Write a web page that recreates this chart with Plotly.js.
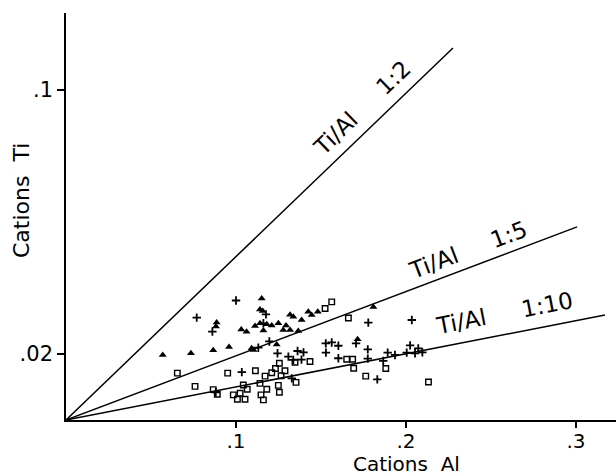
<!DOCTYPE html>
<html>
<head>
<meta charset="utf-8">
<script src="https://cdn.plot.ly/plotly-3.0.1.min.js"></script>
<style>html,body{margin:0;padding:0;background:#fff;}#chart{width:616px;height:476px;}</style>
</head>
<body>
<div id="chart"></div>
<script>
// Reference lines Ti/Al (start at origin, end)
var lineLabels = ["Ti/Al\u00a0\u00a0\u00a0\u00a0 1:2", "Ti/Al\u00a0\u00a0\u00a0\u00a0 1:5", "Ti/Al\u00a0\u00a0\u00a0\u00a0 1:10"];
var lineEndX = [0.2276, 0.3006, 0.317];
var lineEndY = [0.1127, 0.0585, 0.0318];
var labelX = [0.1741, 0.2365, 0.2582];
var labelY = [0.0945, 0.0515, 0.0324];
var labelAngle = [-44, -20.7, -11];

// Filled triangles
var triX = [0.0569,0.0735,0.0866,0.0959,0.0886,0.0882,0.1031,0.1062,0.1151,0.1141,0.1157,0.1112,0.1141,0.1181,0.1210,0.1249,0.1278,0.1294,0.1318,0.1318,0.1337,0.1386,0.1425,0.1445,0.1481,0.1366,0.1161,0.1092,0.1103,0.1808,0.1239,0.1715];
var triY = [0.0197,0.0202,0.0211,0.0221,0.0295,0.0283,0.0274,0.0267,0.0368,0.0335,0.0330,0.0285,0.0293,0.0290,0.0286,0.0293,0.0273,0.0286,0.0273,0.0319,0.0313,0.0303,0.0328,0.0318,0.0328,0.0270,0.0271,0.0217,0.0212,0.0342,0.0229,0.0245];

// Plus signs
var plusX = [0.0769,0.0861,0.1000,0.1176,0.1131,0.1196,0.1244,0.1308,0.1362,0.1397,0.1337,0.1385,0.1034,0.0881,0.1528,0.1563,0.1602,0.1706,0.1529,0.1602,0.1775,0.1775,0.1778,0.2034,0.1831,0.1892,0.1935,0.2004,0.2024,0.2072,0.2096,0.1866,0.1161,0.1328,0.2053];
var plusY = [0.0310,0.0268,0.0362,0.0320,0.0219,0.0238,0.0202,0.0192,0.0209,0.0205,0.0182,0.0183,0.0145,0.0084,0.0232,0.0235,0.0225,0.0232,0.0204,0.0187,0.0214,0.0186,0.0295,0.0303,0.0123,0.0204,0.0197,0.0204,0.0226,0.0217,0.0205,0.0179,0.0293,0.0126,0.0202];

// Open squares
var sqX = [0.0655,0.0759,0.0866,0.0890,0.0951,0.0984,0.1008,0.1024,0.1053,0.1043,0.1066,0.1147,0.1161,0.1141,0.1181,0.1249,0.1255,0.1353,0.1114,0.1171,0.1210,0.1232,0.1255,0.1288,0.1265,0.1347,0.1435,0.1563,0.1524,0.1661,0.1651,0.1686,0.1692,0.1763,0.1881,0.2132];
var sqY = [0.0142,0.0102,0.0092,0.0078,0.0142,0.0076,0.0063,0.0081,0.0063,0.0106,0.0093,0.0076,0.0061,0.0111,0.0093,0.0105,0.0084,0.0114,0.0149,0.0133,0.0143,0.0156,0.0172,0.0149,0.0134,0.0175,0.0177,0.0358,0.0338,0.0309,0.0184,0.0184,0.0157,0.0133,0.0156,0.0115];

var xTicks = [0.1, 0.2, 0.3];
var xTickText = [".1", ".2", ".3"];
var yTicks = [0.02, 0.1];
var yTickText = [".02", ".1"];

var FONT = "DejaVu Sans, Liberation Sans, Arial, sans-serif";
var traces = [];
for (var i = 0; i < lineEndX.length; i++) {
  traces.push({type: "scatter", mode: "lines", x: [0, lineEndX[i]], y: [0, lineEndY[i]],
    line: {color: "#000", width: 1.5}, hoverinfo: "skip", showlegend: false, cliponaxis: false});
}
traces.push({type: "scatter", mode: "markers", x: triX, y: triY, showlegend: false,
  marker: {symbol: "triangle-up", size: 7, color: "#000", line: {width: 0}}});
traces.push({type: "scatter", mode: "markers", x: plusX, y: plusY, showlegend: false,
  marker: {symbol: "cross-thin", size: 6, color: "#000", line: {width: 1.8, color: "#000"}}});
traces.push({type: "scatter", mode: "markers", x: sqX, y: sqY, showlegend: false,
  marker: {symbol: "square-open", size: 5.5, color: "#000", line: {width: 1.4, color: "#000"}}});

var annotations = [];
for (var j = 0; j < lineLabels.length; j++) {
  annotations.push({x: labelX[j], y: labelY[j], xref: "x", yref: "y", text: lineLabels[j],
    showarrow: false, textangle: labelAngle[j], font: {family: FONT, size: 23, color: "#000"}});
}
// axis titles positioned in pixels (converted to paper coords)
var L = 66, R = 0, T = 13, B = 56, W = 616, H = 476;
var pw = W - L - R, ph = H - T - B;
annotations.push({x: (406 - L) / pw, y: (H - B - 464) / ph, xref: "paper", yref: "paper",
  xanchor: "center", yanchor: "middle", text: "Cations\u00a0\u00a0Al", showarrow: false,
  font: {family: FONT, size: 20, color: "#000"}});
annotations.push({x: (21 - L) / pw, y: (H - B - 201) / ph, xref: "paper", yref: "paper",
  xanchor: "center", yanchor: "middle", text: "Cations\u00a0\u00a0Ti", showarrow: false,
  textangle: -90, font: {family: FONT, size: 22, color: "#000"}});

var layout = {
  width: W, height: H,
  margin: {l: L, r: R, t: T, b: B, pad: 0},
  paper_bgcolor: "#fff", plot_bgcolor: "#fff",
  showlegend: false,
  font: {family: FONT, size: 20, color: "#000"},
  xaxis: {range: [0, 0.3235], showgrid: false, zeroline: false, showline: true, linecolor: "#000", linewidth: 1.8,
    ticks: "outside", ticklen: 6, tickwidth: 1.5, tickcolor: "#000", tickvals: xTicks, ticktext: xTickText,
    ticklabelstandoff: -4,
    tickfont: {family: FONT, size: 20, color: "#000"}, fixedrange: true},
  yaxis: {range: [0, 0.1233], showgrid: false, zeroline: false, showline: true, linecolor: "#000", linewidth: 1.8,
    ticks: "outside", ticklen: 7, tickwidth: 1.5, tickcolor: "#000", tickvals: yTicks, ticktext: yTickText,
    tickfont: {family: FONT, size: 21, color: "#000"}, fixedrange: true},
  annotations: annotations
};
Plotly.newPlot("chart", traces, layout, {staticPlot: true, displayModeBar: false});
</script>
</body>
</html>
